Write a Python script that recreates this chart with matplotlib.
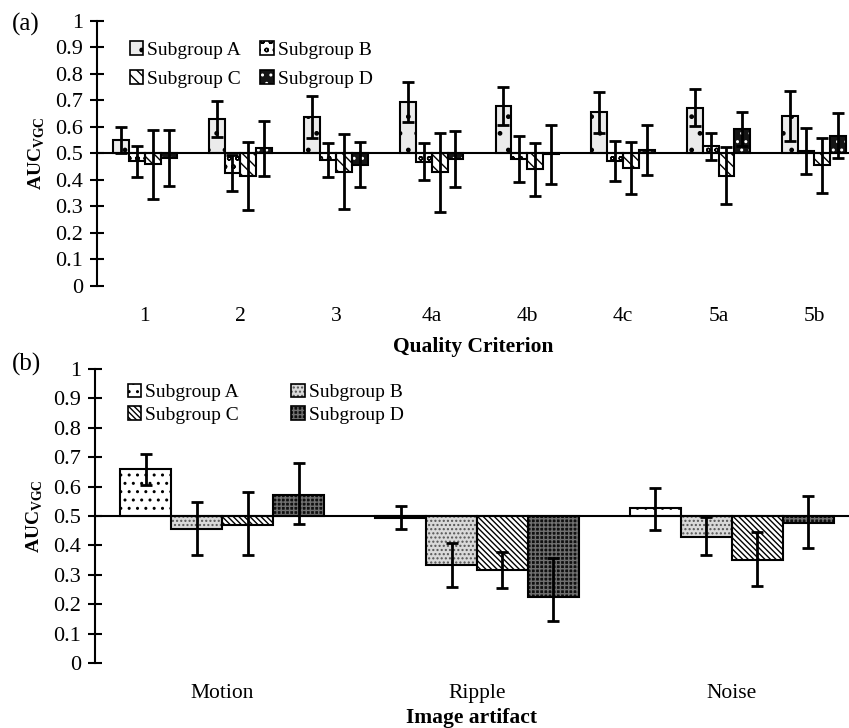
import numpy as np
import matplotlib
matplotlib.use("Agg")
import matplotlib.pyplot as plt
from matplotlib.patches import Patch
from matplotlib.legend_handler import HandlerTuple

plt.rcParams['font.family'] = ['Liberation Serif', 'DejaVu Serif']
plt.rcParams['mathtext.fontset'] = 'custom'
plt.rcParams['mathtext.rm'] = 'Liberation Serif'
plt.rcParams['mathtext.bf'] = 'Liberation Serif:bold'
plt.rcParams['hatch.linewidth'] = 1.0

# ---------------- data: panel (a) ----------------
criteria = ['1', '2', '3', '4a', '4b', '4c', '5a', '5b']
a_A = [0.551, 0.631, 0.638, 0.694, 0.679, 0.655, 0.673, 0.642]
a_A_err = [0.050, 0.067, 0.079, 0.076, 0.072, 0.077, 0.071, 0.095]
a_B = [0.470, 0.425, 0.474, 0.469, 0.479, 0.472, 0.527, 0.509]
a_B_err = [0.060, 0.068, 0.064, 0.070, 0.086, 0.077, 0.050, 0.086]
a_C = [0.460, 0.415, 0.431, 0.429, 0.440, 0.447, 0.416, 0.455]
a_C_err = [0.130, 0.130, 0.142, 0.149, 0.100, 0.098, 0.107, 0.104]
a_D = [0.482, 0.519, 0.458, 0.479, 0.497, 0.514, 0.594, 0.567]
a_D_err = [0.105, 0.103, 0.086, 0.105, 0.112, 0.095, 0.064, 0.085]

# ---------------- data: panel (b) ----------------
artifacts = ['Motion', 'Ripple', 'Noise']
b_A = [0.659, 0.494, 0.526]
b_A_lo = [0.607, 0.456, 0.452]
b_A_hi = [0.711, 0.535, 0.595]
b_B = [0.455, 0.335, 0.430]
b_B_lo = [0.366, 0.259, 0.366]
b_B_hi = [0.547, 0.409, 0.497]
b_C = [0.470, 0.317, 0.350]
b_C_lo = [0.366, 0.256, 0.261]
b_C_hi = [0.583, 0.376, 0.444]
b_D = [0.572, 0.223, 0.477]
b_D_lo = [0.473, 0.144, 0.392]
b_D_hi = [0.681, 0.357, 0.568]

groups = ['Subgroup A', 'Subgroup B', 'Subgroup C', 'Subgroup D']
yticks = [0, 0.1, 0.2, 0.3, 0.4, 0.5, 0.6, 0.7, 0.8, 0.9, 1]
ytick_labels = ['0', '0.1', '0.2', '0.3', '0.4', '0.5', '0.6', '0.7', '0.8', '0.9', '1']

W, H = 849, 728
fig = plt.figure(figsize=(W / 100, H / 100), dpi=100)

ax_a = fig.add_axes([97 / W, 1 - 286 / H, 1 - 97 / W, (286 - 21) / H])
ax_b = fig.add_axes([95 / W, 1 - 663 / H, 1 - 95 / W, (663 - 369) / H])

# styles: (facecolor, hatch, hatch colour)
styles_a = [('#ebebeb', '.', 'black'),
            ('white', 'oo', 'black'),
            ('white', '\\\\\\', 'black'),
            ('#151515', '..', 'white')]
styles_b = [('white', '..', 'black'),
            ('#d9d9d9', '....', '#555555'),
            ('white', '\\\\\\\\\\\\', 'black'),
            ('#101010', '++++', '#707070')]


def draw_bar(ax, x, val, width, style, z=2):
    fc, hatch, hc = style
    h = np.array(val) - 0.5
    ax.bar(x, h, width, bottom=0.5, color=fc,
           edgecolor='none', linewidth=0, zorder=z)
    ax.bar(x, h, width, bottom=0.5, color='none',
           edgecolor=hc, hatch=hatch, linewidth=0, zorder=z + 0.1)
    ax.bar(x, h, width, bottom=0.5, color='none',
           edgecolor='black', linewidth=1.5, zorder=z + 0.2)


def handle(style):
    fc, hatch, hc = style
    return (Patch(facecolor=fc, edgecolor='none'),
            Patch(facecolor='none', edgecolor=hc, hatch=hatch, linewidth=0),
            Patch(facecolor='none', edgecolor='black', linewidth=1.2))


def style_axis(ax, cats, x):
    ax.set_ylim(0, 1)
    ax.set_yticks(yticks)
    ax.set_yticklabels(ytick_labels, fontsize=16)
    ax.set_xticks(x)
    ax.set_xticklabels(cats, fontsize=15.5)
    ax.tick_params(axis='x', length=0, pad=15)
    ax.tick_params(axis='y', direction='inout', length=10, width=1.5, pad=5)
    for s in ['top', 'right', 'bottom']:
        ax.spines[s].set_visible(False)
    ax.spines['left'].set_linewidth(1.5)
    ax.axhline(0.5, color='black', linewidth=1.5, zorder=4)
    ax.set_ylabel(r'$\mathbf{AUC}_{\mathbf{VGC}}$', fontsize=14, labelpad=6)


def legend_order(items):
    # matplotlib fills legend columns first; reorder so rows read A B / C D
    return [items[0], items[2], items[1], items[3]]


# ---------------- panel (a) ----------------
xa = np.arange(len(criteria))
wa = 0.166
vals_a = [a_A, a_B, a_C, a_D]
errs_a = [a_A_err, a_B_err, a_C_err, a_D_err]
for i in range(4):
    xs = xa + (i - 1.5) * wa
    draw_bar(ax_a, xs, vals_a[i], wa, styles_a[i])
    ax_a.errorbar(xs, vals_a[i], yerr=errs_a[i], fmt='none', ecolor='black',
                  elinewidth=2, capsize=4, capthick=2, zorder=5)
ax_a.set_xlim(-0.5, (849 - 94) / 96 - 0.5)
style_axis(ax_a, criteria, xa)
ax_a.set_xlabel('Quality Criterion', fontsize=15.5, fontweight='bold', labelpad=8)
ax_a.legend(legend_order([handle(s) for s in styles_a]), legend_order(groups), ncol=2,
            handler_map={tuple: HandlerTuple(ndivide=1)},
            loc='upper left', bbox_to_anchor=(0.02, 0.99), frameon=False,
            fontsize=14, handlelength=0.7, handleheight=0.7,
            handletextpad=0.2, columnspacing=1.0, labelspacing=0.6)
fig.text(12 / W, 1 - 24 / H, '(a)', fontsize=18, va='center', ha='left')

# ---------------- panel (b) ----------------
xb = np.arange(len(artifacts))
wb = 0.2
vals_b = [b_A, b_B, b_C, b_D]
los_b = [b_A_lo, b_B_lo, b_C_lo, b_D_lo]
his_b = [b_A_hi, b_B_hi, b_C_hi, b_D_hi]
for i in range(4):
    xs = xb + (i - 1.5) * wb
    v = np.array(vals_b[i])
    draw_bar(ax_b, xs, v, wb, styles_b[i])
    yerr = [v - np.array(los_b[i]), np.array(his_b[i]) - v]
    ax_b.errorbar(xs, v, yerr=yerr, fmt='none', ecolor='black',
                  elinewidth=2, capsize=4, capthick=2, zorder=5)
ax_b.set_xlim(-0.5, (849 - 94) / 255 - 0.5)
style_axis(ax_b, artifacts, xb)
ax_b.set_xlabel('Image artifact', fontsize=15.5, fontweight='bold', labelpad=4)
ax_b.legend(legend_order([handle(s) for s in styles_b]), legend_order(groups), ncol=2,
            handler_map={tuple: HandlerTuple(ndivide=1)},
            loc='upper left', bbox_to_anchor=(0.02, 1.01), frameon=False,
            fontsize=14, handlelength=0.7, handleheight=0.7,
            handletextpad=0.2, columnspacing=2.7, labelspacing=0.25)
fig.text(12 / W, 1 - 364 / H, '(b)', fontsize=18, va='center', ha='left')

fig.savefig('out.png', dpi=100)
